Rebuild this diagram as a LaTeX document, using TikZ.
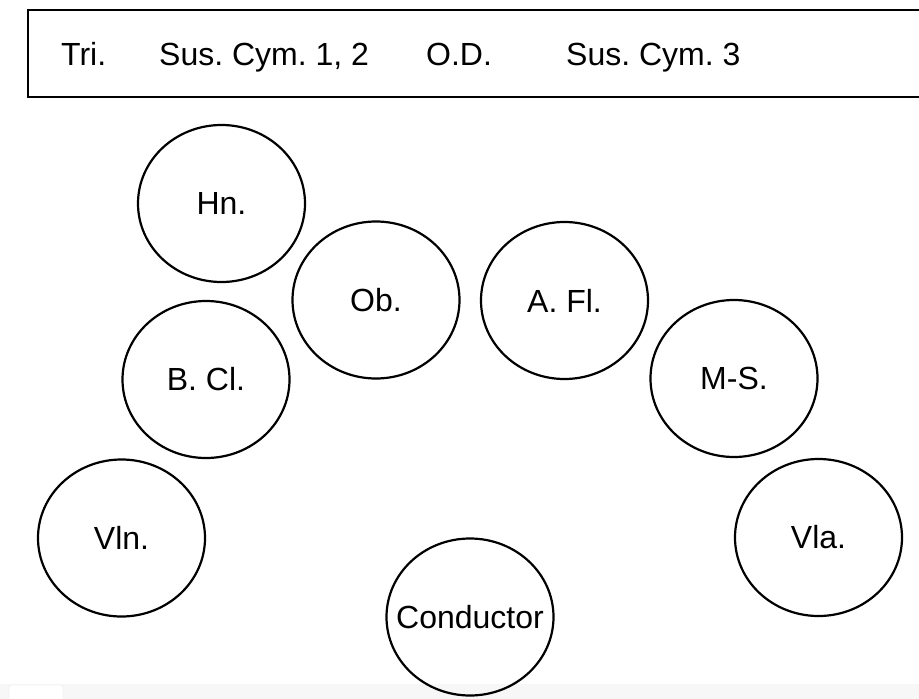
\documentclass[tikz,border=0pt]{standalone}
\usepackage{fontspec}
\setmainfont{Liberation Sans}
\usetikzlibrary{shapes.geometric}
\frenchspacing
\begin{document}
\begin{tikzpicture}[x=1pt,y=-1pt,
  seat/.style={draw,line width=2.2pt,ellipse,minimum width=167pt,minimum height=157pt,inner sep=0pt},
  seattext/.style={inner sep=0pt,font=\fontsize{32}{38}\selectfont},
  toptext/.style={anchor=base west,inner sep=0pt,font=\fontsize{32}{38}\selectfont}]
\clip (0,0) rectangle (919,699);
\fill[white] (0,0) rectangle (919,699);
% faint screenshot band at the bottom
\fill[black!3] (0,684) rectangle (919,699);
\fill[white,draw=black!10,rounded corners=2pt] (9,685) rectangle (63,705);
% instrument box
\draw[line width=2.2pt] (28,10) rectangle (940,97);
\node[toptext] (tri) at (61,65) {Tri.};
\node[toptext] (sc12) at (159,65) {Sus. Cym. 1, 2};
\node[toptext] (od) at (426,65) {O.D.};
\node[toptext] (sc3) at (566,65) {Sus. Cym. 3};
% seats
\node[seat] (hn) at (221.5,203.5) {};
\node[seat] (ob) at (376,300) {};
\node[seat] (afl) at (564.5,300.5) {};
\node[seat] (bcl) at (206,379.5) {};
\node[seat] (ms) at (734,378.5) {};
\node[seat] (vln) at (121.5,538) {};
\node[seat] (vla) at (818.5,537.5) {};
\node[seat] (cond) at (470,617) {};
\node[seattext] (hnt) at (hn) {Hn.};
\node[seattext] (obt) at (ob) {Ob.};
\node[seattext] (aflt) at (afl) {A. Fl.};
\node[seattext] (bclt) at (bcl) {B. Cl.};
\node[seattext] (mst) at (ms) {M-S.};
\node[seattext] (vlnt) at (vln) {Vln.};
\node[seattext] (vlat) at (vla) {Vla.};
\node[seattext] (condt) at (cond) {Conductor};
\end{tikzpicture}
\end{document}
